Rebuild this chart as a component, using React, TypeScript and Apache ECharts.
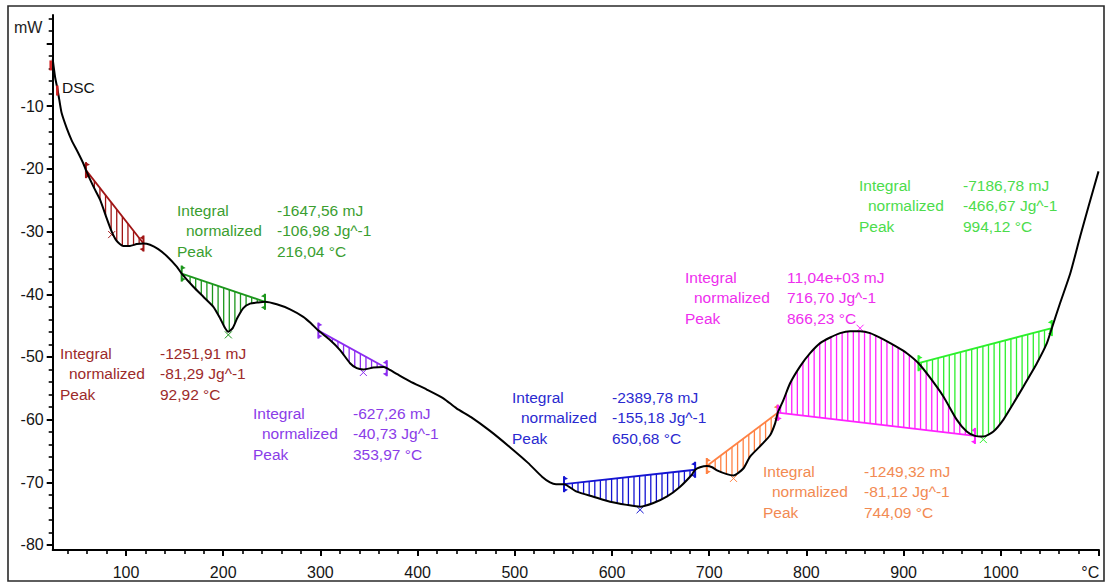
import React, { useEffect, useRef } from "react";
import * as echarts from "echarts";

// DSC heat-flow trace: temperature (°C) and signal (mW)
const tempC = [
  24.6, 27, 29.3, 31.4, 33.8, 39, 44, 51, 56, 58.8,
  66.4, 73.3, 80.2, 85.3, 90.4, 97.2, 104, 111, 118, 124.7,
  133.2, 141.9, 152.2, 157.3, 169.3, 179.6, 189.9, 196.7, 201.9, 205.3,
  209.8, 214.5, 220.7, 227.6, 236.1, 243, 255.1, 268.8, 282.4, 290,
  297.9, 309.9, 320.2, 330.5, 337.4, 344.2, 354.5, 364.8, 368.3, 378.5,
  392.2, 409.4, 426.5, 440, 455, 474.5, 495, 513.6, 528, 536.2,
  542.4, 550.6, 563.7, 580.9, 598, 615.2, 628.9, 642.6, 656.3, 670.1,
  682.1, 685.5, 690.6, 697.5, 703, 708, 718.1, 725, 735.1, 742,
  752, 762.6, 767.8, 770.5, 776.3, 783.2, 793.5, 803.8, 814.1, 824.4,
  834.7, 845, 855.2, 865.5, 879.2, 893, 903.3, 915.3, 927.2, 940.9,
  954.6, 964.9, 973.4, 982, 992.4, 1002.7, 1013, 1023.3, 1037.1, 1047.4,
  1052.5, 1061, 1071.4, 1081.6, 1090.2, 1100.5,
];
const heatFlowMW = [
  -2.5, -5.3, -7.1, -9.0, -11.1, -13.5, -15.4, -17.5, -19.1, -20.2,
  -22.8, -24.9, -27.9, -30.0, -31.5, -32.3, -32.3, -32.0, -31.9, -32.1,
  -32.8, -33.9, -35.6, -36.7, -38.8, -40.4, -42.0, -43.8, -45.4, -46.0,
  -45.4, -43.8, -42.2, -41.5, -41.3, -41.2, -41.6, -42.4, -43.6, -44.6,
  -45.8, -47.3, -48.9, -51.0, -51.8, -52.0, -51.7, -51.6, -51.8, -52.7,
  -53.9, -55.2, -56.6, -58.2, -59.6, -61.8, -64.4, -66.9, -69.1, -70.0,
  -70.3, -70.3, -71.5, -72.3, -73.1, -73.6, -73.9, -73.3, -72.3, -70.7,
  -68.8, -68.0, -67.6, -67.4, -67.6, -68.1, -68.7, -68.9, -67.8, -65.9,
  -64.3, -62.5, -60.6, -58.9, -56.9, -54.2, -51.5, -49.4, -47.8, -46.9,
  -46.2, -45.9, -45.9, -46.2, -47.2, -48.4, -49.4, -51.0, -53.3, -56.3,
  -60.0, -61.9, -62.6, -62.7, -61.9, -60.0, -57.4, -54.7, -51.0, -47.8,
  -45.4, -41.4, -36.7, -30.8, -26.0, -20.4,
];

// integration limits and plotted peak position of each evaluated effect (°C)
const peakStart = [58.8, 157.3, 297.9, 550.6, 697.5, 770.5, 915.3];
const peakEnd = [118, 243, 368.3, 685.5, 770.5, 973.4, 1052.5];
const peakMarkT = [85.3, 205.3, 344.2, 628.9, 725, 855.2, 982];

// evaluation results
const integralText = ["-1251,91 mJ", "-1647,56 mJ", "-627,26 mJ", "-2389,78 mJ", "-1249,32 mJ", "11,04e+03 mJ", "-7186,78 mJ"];
const normalizedText = ["-81,29 Jg^-1", "-106,98 Jg^-1", "-40,73 Jg^-1", "-155,18 Jg^-1", "-81,12 Jg^-1", "716,70 Jg^-1", "-466,67 Jg^-1"];
const peakText = ["92,92 °C", "216,04 °C", "353,97 °C", "650,68 °C", "744,09 °C", "866,23 °C", "994,12 °C"];

// axis ticks
const xMajorTicks = [100, 200, 300, 400, 500, 600, 700, 800, 900, 1000];
const xMinorTicks = [
  40, 60, 80, 120, 140, 160, 180, 220, 240, 260, 280, 320, 340, 360, 380,
  420, 440, 460, 480, 520, 540, 560, 580, 620, 640, 660, 680, 720, 740, 760, 780,
  820, 840, 860, 880, 920, 940, 960, 980, 1020, 1040, 1060, 1080,
];
const yMajorTicks = [-80, -70, -60, -50, -40, -30, -20, -10, 0];
const yLabelTicks = [-80, -70, -60, -50, -40, -30, -20, -10];
const yMinorTicks = [
  -78, -76, -74, -72, -68, -66, -64, -62, -58, -56, -54, -52, -48, -46, -44, -42,
  -38, -36, -34, -32, -28, -26, -24, -22, -18, -16, -14, -12, -8, -6, -4, -2, 2, 4,
];

// styling
const hatchColors = ["#a01414", "#1c961c", "#8c2cf0", "#1414d2", "#ff8244", "#ff22ff", "#2cf02c"];
const textColors = ["#9c2a2a", "#3a9e30", "#8a3ce8", "#2a2ad0", "#f28a52", "#ee2eee", "#4cdc4c"];
// annotation block anchors: [left, first line centre, value column left]
const blockPos = [
  [60, 353, 160],
  [177, 210, 277],
  [253, 413, 353],
  [512, 397, 612],
  [763, 471, 864],
  [685, 277, 787],
  [859, 185, 963],
];

const FONT = '"Liberation Sans", Arial, sans-serif';
const GRID = { left: 52.7, right: 8, top: 15, bottom: 35 };
const W = 1107;
const H = 585;

function curveAt(t: number): number {
  let best = 0;
  for (let k = 1; k < tempC.length; k++) {
    if (Math.abs(tempC[k] - t) < Math.abs(tempC[best] - t)) best = k;
  }
  return heatFlowMW[best];
}

function renderRegion(params: any, api: any) {
  const i = params.dataIndex;
  const t0 = api.value(0);
  const t1 = api.value(2);
  const tp = api.value(3);
  const color = hatchColors[i];
  const pts: number[][] = [];
  for (let k = 0; k < tempC.length; k++) {
    if (tempC[k] >= t0 - 1e-6 && tempC[k] <= t1 + 1e-6) {
      pts.push(api.coord([tempC[k], heatFlowMW[k]]));
    }
  }
  const a = pts[0];
  const b = pts[pts.length - 1];
  const children: any[] = [];
  const step = 5.6;
  let seg = 0;
  for (let x = a[0] + step / 2; x < b[0]; x += step) {
    while (seg < pts.length - 2 && pts[seg + 1][0] < x) seg++;
    const p = pts[seg];
    const q = pts[seg + 1];
    const yc = p[1] + ((q[1] - p[1]) * (x - p[0])) / (q[0] - p[0]);
    const yb = a[1] + ((b[1] - a[1]) * (x - a[0])) / (b[0] - a[0]);
    children.push({
      type: "line",
      shape: { x1: x, y1: yb, x2: x, y2: yc },
      style: { stroke: color, lineWidth: 1.3 },
    });
  }
  children.push({
    type: "line",
    shape: { x1: a[0], y1: a[1], x2: b[0], y2: b[1] },
    style: { stroke: color, lineWidth: 1.8 },
  });
  const ends: [number[], number][] = [
    [a, 1],
    [b, -1],
  ];
  for (const [p, dir] of ends) {
    children.push({
      type: "line",
      shape: { x1: p[0], y1: p[1] - 8, x2: p[0], y2: p[1] + 8 },
      style: { stroke: color, lineWidth: 2 },
    });
    children.push({
      type: "polygon",
      shape: { points: [[p[0], p[1] - 8], [p[0] + dir * 4, p[1] - 5.5], [p[0], p[1] - 4]] },
      style: { fill: color },
    });
    children.push({
      type: "polygon",
      shape: { points: [[p[0], p[1] + 8], [p[0] + dir * 4, p[1] + 5.5], [p[0], p[1] + 4]] },
      style: { fill: color },
    });
  }
  const pk = api.coord([tp, curveAt(tp)]);
  const tb = (tp - t0) / (t1 - t0);
  const baseY = a[1] + (b[1] - a[1]) * tb;
  const off = pk[1] > baseY ? 3 : -3;
  const cy = pk[1] + off;
  const s = 3.5;
  children.push({
    type: "line",
    shape: { x1: pk[0] - s, y1: cy - s, x2: pk[0] + s, y2: cy + s },
    style: { stroke: color, lineWidth: 1 },
  });
  children.push({
    type: "line",
    shape: { x1: pk[0] - s, y1: cy + s, x2: pk[0] + s, y2: cy - s },
    style: { stroke: color, lineWidth: 1 },
  });
  return { type: "group", children };
}

function renderStartMark(params: any, api: any) {
  const p = api.coord([api.value(0), api.value(1)]);
  return {
    type: "line",
    shape: { x1: p[0] - 2, y1: p[1] - 5, x2: p[0] - 2, y2: p[1] + 5 },
    style: { stroke: "#d42020", lineWidth: 2.5 },
  };
}

function buildAnnotations() {
  const els: any[] = [];
  for (let i = 0; i < integralText.length; i++) {
    const [lx, ly, vx] = blockPos[i];
    const rows = [
      ["Integral", integralText[i], 0],
      ["normalized", normalizedText[i], 9],
      ["Peak", peakText[i], 0],
    ];
    rows.forEach((r, j) => {
      const y = ly + j * 20.5;
      els.push({
        type: "text",
        x: lx + (r[2] as number),
        y,
        style: { text: r[0], fill: textColors[i], fontSize: 15.5, fontFamily: FONT, verticalAlign: "middle", align: "left" },
      });
      els.push({
        type: "text",
        x: vx,
        y,
        style: { text: r[1], fill: textColors[i], fontSize: 15.5, fontFamily: FONT, verticalAlign: "middle", align: "left" },
      });
    });
  }
  return els;
}

export default function App() {
  const ref = useRef<HTMLDivElement>(null);

  useEffect(() => {
    if (!ref.current) return;
    const chart = echarts.init(ref.current, undefined, { renderer: "svg" });
    const xMin = 24.6;
    const xMax = 1101;
    const yMin = -80.8;
    const yMax = 4.55;
    const curve = tempC.map((t, k) => [t, heatFlowMW[k]]);
    const regions = peakStart.map((s, i) => [s, curveAt(s), peakEnd[i], peakMarkT[i]]);
    const plotW = W - GRID.left - GRID.right;
    const plotH = H - GRID.top - GRID.bottom;

    chart.setOption({
      animation: false,
      backgroundColor: "#ffffff",
      grid: { ...GRID, containLabel: false },
      xAxis: [
        {
          type: "value",
          position: "bottom",
          min: xMin,
          max: xMax,
          axisLine: { show: true, onZero: false, lineStyle: { color: "#000", width: 2 } },
          axisTick: { show: true, customValues: [...xMajorTicks, xMax], length: 6, lineStyle: { color: "#000", width: 2 } },
          axisLabel: {
            customValues: [...xMajorTicks, 1092],
            formatter: (v: number) => (v > 1050 ? "°C" : String(v)),
            fontSize: 16,
            fontFamily: FONT,
            color: "#151515",
            margin: 14,
          },
          splitLine: { show: false },
        },
        {
          // minor ticks: a top axis shifted down onto the bottom edge, ticks pointing down
          type: "value",
          position: "top",
          offset: -plotH,
          min: xMin,
          max: xMax,
          axisLine: { show: false, onZero: false },
          axisTick: { show: true, inside: true, customValues: xMinorTicks, length: 4, lineStyle: { color: "#000", width: 1.6 } },
          axisLabel: { show: false },
          splitLine: { show: false },
        },
      ],
      yAxis: [
        {
          type: "value",
          position: "left",
          min: yMin,
          max: yMax,
          axisLine: { show: true, onZero: false, lineStyle: { color: "#000", width: 2 } },
          axisTick: { show: true, customValues: yMajorTicks, length: 6, lineStyle: { color: "#000", width: 2 } },
          axisLabel: {
            customValues: yLabelTicks,
            fontSize: 16,
            fontFamily: FONT,
            color: "#151515",
            margin: 9,
          },
          splitLine: { show: false },
        },
        {
          // minor ticks: a right axis shifted onto the left edge, ticks pointing left
          type: "value",
          position: "right",
          offset: -plotW,
          min: yMin,
          max: yMax,
          axisLine: { show: false, onZero: false },
          axisTick: { show: true, inside: true, customValues: yMinorTicks, length: 4, lineStyle: { color: "#000", width: 1.6 } },
          axisLabel: { show: false },
          splitLine: { show: false },
        },
      ],
      series: [
        {
          type: "custom",
          name: "Peaks",
          coordinateSystem: "cartesian2d",
          xAxisIndex: 0,
          yAxisIndex: 0,
          renderItem: renderRegion,
          data: regions,
          z: 2,
          silent: true,
        },
        {
          type: "line",
          name: "DSC",
          xAxisIndex: 0,
          yAxisIndex: 0,
          data: curve,
          showSymbol: false,
          smooth: 0.2,
          lineStyle: { color: "#000", width: 2 },
          z: 3,
          silent: true,
        },
        {
          type: "custom",
          name: "DSC start",
          coordinateSystem: "cartesian2d",
          xAxisIndex: 0,
          yAxisIndex: 0,
          renderItem: renderStartMark,
          data: [
            [24.6, -3.5],
            [31.4, -7.5],
          ],
          z: 4,
          silent: true,
        },
      ],
      graphic: [
        {
          type: "rect",
          shape: { x: 8, y: 6, width: 1096, height: 575 },
          style: { fill: "none", stroke: "#2a2a2a", lineWidth: 1.6 },
          silent: true,
        },
        {
          type: "text",
          x: 14,
          y: 27,
          style: { text: "mW", fill: "#222", fontSize: 16, fontFamily: FONT, verticalAlign: "middle", align: "left" },
        },
        {
          type: "text",
          x: 62,
          y: 87,
          style: { text: "DSC", fill: "#111", fontSize: 15.5, fontFamily: FONT, verticalAlign: "middle", align: "left" },
        },
        ...buildAnnotations(),
      ],
    });

    return () => chart.dispose();
  }, []);

  return (
    <div
      ref={ref}
      style={{ position: "fixed", left: 0, top: 0, width: W, height: H, background: "#fff" }}
    />
  );
}
